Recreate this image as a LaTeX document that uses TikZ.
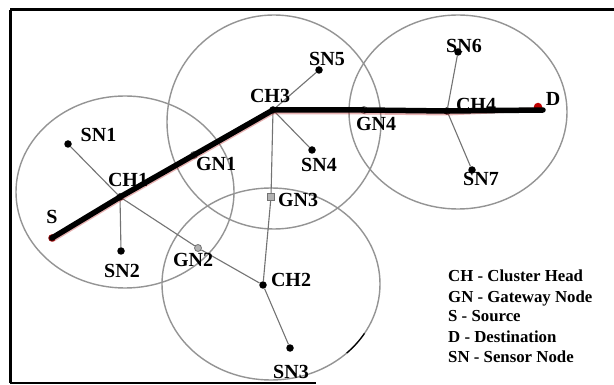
\documentclass[tikz,border=0pt]{standalone}
\usepackage{fontspec}
\setmainfont{Liberation Serif}
\begin{document}
\begin{tikzpicture}[x=1pt,y=-1pt,
  cluster/.style={draw=black!42,line width=1.4pt},
  link/.style={draw=black!55,line width=1.1pt},
  route/.style={draw=black,line width=5.5pt,line join=round,line cap=round},
  glow/.style={draw=red!70!black,opacity=0.3,line width=4pt,line join=round},
  dot/.style={circle,fill=black,inner sep=0pt,minimum size=7.5pt},
  gwdot/.style={circle,fill=black!30,draw=black!55,line width=0.8pt,inner sep=0pt,minimum size=7pt},
  lbl/.style={font=\fontsize{20}{20}\selectfont\bfseries,anchor=base,inner sep=0pt},
  legend/.style={font=\fontsize{16.8}{20}\selectfont\bfseries,anchor=base west,inner sep=0pt}]
\useasboundingbox (0,0) rectangle (614,385);
\fill[white] (0,0) rectangle (614,385);
% frame
\draw[line width=3pt] (10,10) -- (614,10);
\draw[line width=3pt] (10,10) -- (10,383);
\draw[line width=2.5pt] (10,383) -- (316,383);
% clusters
\draw[cluster] (125,192) ellipse [x radius=109, y radius=96];
\draw[cluster] (274,122) ellipse [x radius=107, y radius=107];
\draw[cluster] (458,112) ellipse [x radius=109, y radius=97];
\draw[cluster] (271,284) ellipse [x radius=109, y radius=96];
\draw[black,line width=1.2pt] (271,284) ++(-46:109 and -96) arc [start angle=-46, end angle=-31, x radius=109, y radius=-96];
% nodes
\node[dot,fill=red!55!black] (S) at (52,238) {};
\node[dot] (CH1) at (120,197) {};
\node[dot] (SN1) at (68,144) {};
\node[dot] (SN2) at (121,251) {};
\node[gwdot] (GN1) at (194,155) {};
\node[dot] (CH3) at (273,110) {};
\node[dot] (SN5) at (319,70) {};
\node[dot] (SN4) at (312,150) {};
\node[gwdot,rectangle,minimum size=6.5pt] (GN3) at (271,197) {};
\node[gwdot] (GN2) at (198,248) {};
\node[dot] (CH2) at (263,285) {};
\node[dot] (SN3) at (290,348) {};
\node[gwdot] (GN4) at (364,110) {};
\node[dot] (CH4) at (447,111) {};
\node[dot] (SN6) at (458,52) {};
\node[dot] (SN7) at (472,170) {};
\node[dot,fill=red!75!black,minimum size=8.5pt] (D) at (538,107) {};
% thin links
\draw[link] (SN1) -- (CH1.center);
\draw[link] (CH1.center) -- (SN2);
\draw[link] (CH1.center) -- (GN2) -- (CH2);
\draw[link] (CH3.center) -- (SN5);
\draw[link] (CH3.center) -- (SN4);
\draw[link] (CH3.center) -- (GN3) -- (CH2);
\draw[link] (CH2) -- (SN3);
\draw[link] (CH4.center) -- (SN6);
\draw[link] (CH4.center) -- (SN7);
% labels
\node[lbl] (lS) at (52,224) {S};
\node[lbl] (lCH1) at (128,186.5) {CH1};
\node[lbl] (lSN1) at (98.5,142) {SN1};
\node[lbl] (lSN2) at (122,277) {SN2};
\node[lbl] (lGN1) at (216,171) {GN1};
\node[lbl] (lCH3) at (270,103) {CH3};
\node[lbl] (lSN5) at (327,66) {SN5};
\node[lbl] (lSN4) at (319,172) {SN4};
\node[lbl] (lGN3) at (298,207) {GN3};
\node[lbl] (lGN2) at (193,267) {GN2};
\node[lbl] (lCH2) at (291,287) {CH2};
\node[lbl] (lSN3) at (291,378) {SN3};
\node[lbl] (lGN4) at (376,131) {GN4};
\node[lbl] (lCH4) at (476,112) {CH4};
\node[lbl] (lD) at (553,106) {D};
\node[lbl] (lSN6) at (464,53) {SN6};
\node[lbl] (lSN7) at (481,186) {SN7};
% route
\draw[glow] ([yshift=-2.5pt]S.center) -- ([yshift=-2.5pt]CH1.center) -- ([yshift=-2.5pt]GN1.center) -- ([yshift=-2.5pt]CH3.center) -- ([yshift=-2.5pt]GN4.center) -- ([yshift=-2.5pt]CH4.center) -- ([yshift=-2.5pt]D.center);
\draw[route] (S.center) -- (CH1.center) -- (GN1.center) -- (CH3.center) -- (GN4.center) -- (CH4.center) -- ([xshift=5pt,yshift=-3pt]D.center);
% legend
\node[legend] (L1) at (448,282) {CH - Cluster Head};
\node[legend] (L2) at (448,302) {GN - Gateway Node};
\node[legend] (L3) at (448,322) {S - Source};
\node[legend] (L4) at (448,342) {D - Destination};
\node[legend] (L5) at (448,362) {SN - Sensor Node};
\end{tikzpicture}
\end{document}
